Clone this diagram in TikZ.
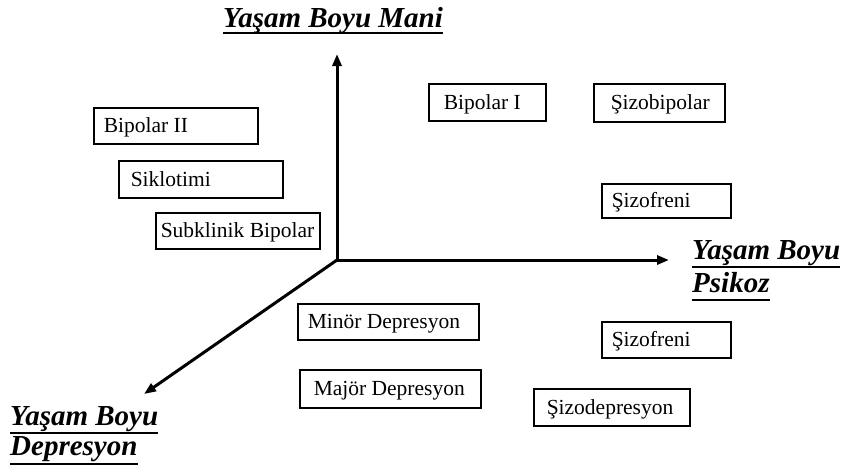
\documentclass[tikz,border=0pt]{standalone}
\usepackage{fontspec}
\setmainfont{Liberation Serif}
\usetikzlibrary{arrows.meta}
\newcommand{\lefttext}[2]{\makebox[#1][l]{#2}}
\tikzset{
  box/.style n args={2}{draw, line width=1.5pt, anchor=north west, inner xsep=#2, inner ysep=0pt,
    text height=14pt, text depth=0pt, minimum height=#1,
    font=\fontsize{21.5}{24}\selectfont},
  axislabel/.style={inner sep=0pt, anchor=base west, font=\fontsize{29}{32}\selectfont\bfseries\itshape},
  uline/.style={line width=2.5pt},
  axis/.style={line width=3pt, -{Triangle[length=12pt,width=9pt]}}
}
\begin{document}
\begin{tikzpicture}[x=1pt,y=-1pt]
\useasboundingbox (0,0) rectangle (842,467);
% axes
\coordinate (O) at (337,260);
\coordinate (up) at (337,54);
\coordinate (right) at (669,260);
\coordinate (dl) at (144,394);
\draw[axis] (O) -- (up);
\draw[axis] (O) -- (right);
\draw[axis] (O) -- (dl);
% axis labels
\node[axislabel] (mani) at (223,27) {Yaşam Boyu Mani};
\draw[uline] ([yshift=-6pt]mani.base west) -- ([yshift=-6pt]mani.base east);
\node[axislabel] (psi1) at (692,259) {Yaşam Boyu};
\draw[uline] ([yshift=-8pt]psi1.base west) -- ([yshift=-8pt]psi1.base east);
\node[axislabel] (psi2) at (692,292) {Psikoz};
\draw[uline] ([yshift=-8pt]psi2.base west) -- ([yshift=-8pt]psi2.base east);
\node[axislabel] (dep1) at (10,425) {Yaşam Boyu};
\draw[uline] ([yshift=-8pt]dep1.base west) -- ([yshift=-8pt]dep1.base east);
\node[axislabel] (dep2) at (10,455) {Depresyon};
\draw[uline] ([yshift=-9pt]dep2.base west) -- ([yshift=-9pt]dep2.base east);
% boxes
\node[box={36pt}{10pt}] (bip2) at (93,107) {\lefttext{144pt}{Bipolar II}};
\node[box={37pt}{12pt}] (siklo) at (118,160) {\lefttext{140pt}{Siklotimi}};
\node[box={36pt}{5pt}] (subk) at (155,212) {\lefttext{154pt}{Subklinik Bipolar}};
\node[box={37pt}{15pt}] (bip1) at (428,83) {\lefttext{87pt}{Bipolar I}};
\node[box={38pt}{17pt}] (sizobi) at (593,83) {\lefttext{97pt}{Şizobipolar}};
\node[box={34pt}{10pt}] (sizof1) at (601,183) {\lefttext{109pt}{Şizofreni}};
\node[box={36pt}{10pt}] (minor) at (297,303) {\lefttext{161pt}{Minör Depresyon}};
\node[box={38pt}{14pt}] (major) at (299,369) {\lefttext{153pt}{Majör Depresyon}};
\node[box={36pt}{10pt}] (sizof2) at (601,321) {\lefttext{109pt}{Şizofreni}};
\node[box={37pt}{13pt}] (sizod) at (533,388) {\lefttext{130pt}{Şizodepresyon}};
\end{tikzpicture}
\end{document}
